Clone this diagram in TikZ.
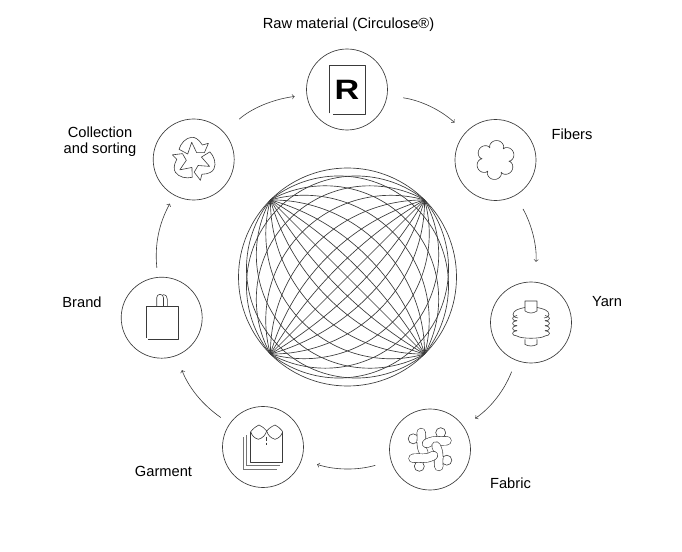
\documentclass[tikz,border=0pt]{standalone}
\usepackage{fontspec}
\setmainfont{Liberation Sans}
\tikzset{
	stage/.style={draw=ink,circle,minimum size=60.75pt,inner sep=0pt,line width=.5pt},
	lbl/.style={font=\fontsize{11}{12.2}\selectfont,align=center,inner sep=0pt},
	icon/.style={draw=ink,line width=.45pt,line join=round},
	layer/.style={draw=ink!70,line width=.75pt},
	web/.style={draw=ink,line width=.5pt},
	flow/.style={->,draw=ink,line width=.45pt},
	worm/.style={draw=ink,double=white,double distance=6pt,line width=.45pt,line cap=round}
}
\definecolor{ink}{HTML}{3A3A3A}
\begin{document}
\begin{tikzpicture}[x=.75pt,y=.75pt]
	\useasboundingbox (0,0) rectangle (682,-552);

	\node[stage] (raw) at (347,-89.5) {};
	\node[stage] (fib) at (495.5,-160) {};
	\node[stage] (yarn) at (531,-322.5) {};
	\node[stage] (fab) at (430,-449.5) {};
	\node[stage] (gar) at (263,-447) {};
	\node[stage] (brand) at (161.7,-317.7) {};
	\node[stage] (coll) at (193.7,-159.5) {};
	\node[circle,minimum size=163.5pt,inner sep=0pt,web,draw] (sph) at (347.5,-277) {};

	\node[lbl] (rawl) at (348.5,-25) {Raw material (Circulose®)};
	\node[lbl] (fibl) at (572,-134) {Fibers};
	\node[lbl] (yarnl) at (607,-302) {Yarn};
	\node[lbl] (fabl) at (510.5,-483) {Fabric};
	\node[lbl] (garl) at (163.5,-471) {Garment};
	\node[lbl] (brandl) at (82,-302) {Brand};
	\node[lbl] (colll) at (100,-142) {Collection\\and sorting};

	\draw[flow,shorten <=15pt,shorten >=9pt] (coll) to[bend left=17] (raw);
	\draw[flow,shorten <=12pt,shorten >=11pt] (raw) to[bend left=17] (fib);
	\draw[flow,shorten <=11.5pt,shorten >=15pt] (fib) to[bend left=17] (yarn);
	\draw[flow,shorten <=9pt,shorten >=10.5pt] (yarn) to[bend left=17] (fab);
	\draw[flow,shorten <=12pt,shorten >=12pt] (fab) to[bend left=17] (gar);
	\draw[flow,shorten <=8pt,shorten >=11.5pt] (gar) to[bend left=17] (brand);
	\draw[flow,shorten <=7pt,shorten >=7pt] (brand) to[bend left=17] (coll);

	% sphere
	\foreach \rot in {45,135} {
		\draw[web,shift={(sph)},rotate=\rot] (-109,0) -- (109,0);
	}
	\foreach \rot in {45,135,225,315} {
		\foreach \bul in {.126,.261,.418,.585,.752,.894} {
			\pgfmathsetmacro{\cen}{(\bul*\bul-1)/(2*\bul)}
			\pgfmathsetmacro{\rad}{(\bul*\bul+1)/(2*\bul)*109}
			\pgfmathsetmacro{\ang}{atan(-\cen)}
			\draw[web,shift={(sph)},rotate=\rot] (-109,0) arc[start angle={180-\ang},end angle=\ang,radius=\rad];
		}
	}

	% raw material
	\begin{scope}[shift={(raw)}]
		\draw[icon] (-17.5,-24) -- (-17.5,24.5) -- (18,24.5) -- (18,-24.5) -- (-14,-24.5);
		\node[inner sep=0pt,xscale=1.22,font=\fontsize{21}{21}\selectfont\bfseries] (logo) at (0,0) {R};
	\end{scope}

	% fibers
	\draw[icon,shift={(fib)}] plot[domain=0:360,samples=145] (\x:{13.5+6*pow(abs(cos(3*(\x-25))),.6)}) -- cycle;

	% yarn
	\begin{scope}[shift={(yarn)}]
		\draw[icon] (-6,11.5) -- (-6,21.5) -- (6,21.5) -- (6,11.5) to[bend left=35] (-6,11.5);
		\draw[icon] (-6,15) .. controls (-12,14) and (-18,12) .. (-18,8) .. controls (-18,5) and (-15,5) .. (-13,4.5);
		\draw[icon] (6,15) .. controls (12,14) and (18,12) .. (18,8) .. controls (18,5) and (15,5) .. (13,4.5);
		\foreach \sy in {7,2,-3,-8} {
			\draw[icon] (-14,\sy) .. controls (-20,\sy-1) and (-20,\sy-5) .. (-14,\sy-5.5);
			\draw[icon] (14,\sy) .. controls (20,\sy-1) and (20,\sy-5) .. (14,\sy-5.5);
		}
		\draw[icon] (-14,-13.5) .. controls (-10,-16.5) and (10,-16.5) .. (14,-13.5);
		\draw[icon] (-6,-17) -- (-6,-22) to[bend right=25] (6,-22) -- (6,-17);
	\end{scope}

	% fabric
	\foreach \rot in {0,-90,-180,-270} {
		\draw[icon,shift={(fab)},rotate=\rot,fill=white] (-16.8,10.7) circle (5);
	}
	\foreach \rot in {0,-90,-180,-270} {
		\draw[worm,shift={(fab)},rotate=\rot] (-8.8,17) .. controls (-7.5,10) and (-11,6) .. (-6,-3.5);
	}

	% garment
	\begin{scope}[shift={(gar)}]
		\draw[layer] (-16.3,12) -- (-16.3,-18.7) -- (17,-18.7);
		\draw[layer] (-19.7,9.7) -- (-19.7,-22.3) -- (13.7,-22.3);
		\draw[icon] (-12.3,15.3) -- (-12.3,-15.3) -- (19.7,-15.3) -- (19.7,15.3);
		\draw[icon] (-12.3,15.3) to[bend left=12] (-4,22) to[bend left=12] (3.7,16) to[bend left=12] (12,22) to[bend left=12] (19.7,15.3);
		\draw[icon] (-12.3,15.3) to[bend right=28] (-4.7,7.7) to[bend right=28] (3.7,16);
		\draw[icon] (3.7,16) to[bend right=28] (12,7.7) to[bend right=28] (19.7,15.3);
		\draw[icon] (3.7,10.3) -- (3.7,6);
		\draw[icon] (3.7,4.5) -- (3.7,2);
	\end{scope}

	% brand
	\begin{scope}[shift={(brand)}]
		\draw[icon] (-15.7,-20.5) -- (-15.7,11) -- (16.7,11) -- (16.7,-21.7) -- (-13.5,-21.7);
		\draw[icon] (-5,11) -- (-5,20) arc[start angle=180,end angle=0,radius=3.4] -- (1.8,11);
		\draw[icon] (1.2,23) .. controls (4.5,23) and (5.7,21) .. (5.7,18) -- (5.7,11);
	\end{scope}

	% collection
	\begin{scope}[shift={(coll)}]
		\foreach \rot in {0,120,240} {
			\draw[icon,rotate=\rot] (-14.7,10.2) -- (-6,5.5) -- (-2,17.2) -- (3,6.8) -- (10.7,6.8) -- (14.7,16.2) -- (8.7,14.5) .. controls (5,20.5) and (1,22.5) .. (-2,22.2) .. controls (-8,21.8) and (-13,16) .. (-14.7,10.2);
		}
	\end{scope}
\end{tikzpicture}
\end{document}
